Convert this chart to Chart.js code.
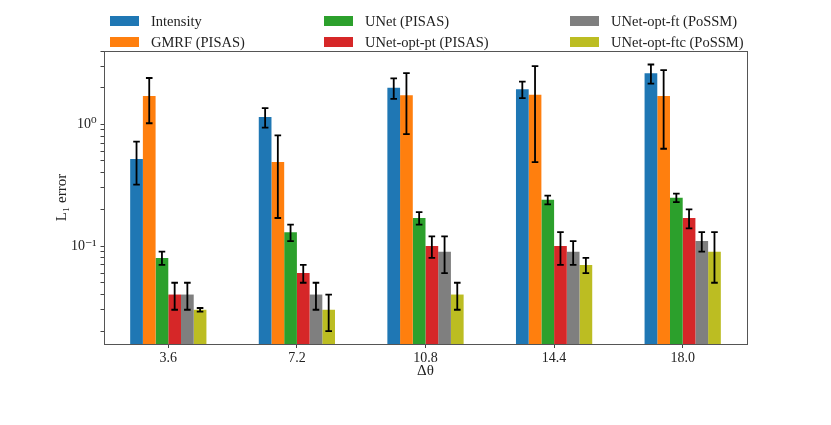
<!DOCTYPE html>
<html>
<head>
<meta charset="utf-8">
<script src="https://cdn.jsdelivr.net/npm/chart.js@4.4.0/dist/chart.umd.min.js"></script>
<style>
  html, body { margin: 0; padding: 0; background: #fff; }
  #wrap { width: 831px; height: 425px; }
</style>
</head>
<body>
<div id="wrap"><canvas id="errChart" width="831" height="425"></canvas></div>
<script>
var categories = ["3.6", "7.2", "10.8", "14.4", "18.0"];

var intensity = [0.52, 1.15, 2.0, 1.94, 2.63];
var intensityErr = [0.2, 0.21, 0.38, 0.3, 0.47];
var gmrf = [1.71, 0.49, 1.73, 1.75, 1.71];
var gmrfErr = [0.69, 0.32, 0.9, 1.26, 1.08];
var unet = [0.08, 0.13, 0.17, 0.24, 0.25];
var unetErr = [0.01, 0.02, 0.02, 0.02, 0.02];
var unetOptPt = [0.04, 0.06, 0.1, 0.1, 0.17];
var unetOptPtErr = [0.01, 0.01, 0.02, 0.03, 0.03];
var unetOptFt = [0.04, 0.04, 0.09, 0.09, 0.11];
var unetOptFtErr = [0.01, 0.01, 0.03, 0.02, 0.02];
var unetOptFtc = [0.03, 0.03, 0.04, 0.07, 0.09];
var unetOptFtcErr = [0.001, 0.01, 0.01, 0.01, 0.04];

var yTicks = [0.02, 0.03, 0.04, 0.05, 0.06, 0.07, 0.08, 0.09, 0.1,
              0.2, 0.3, 0.4, 0.5, 0.6, 0.7, 0.8, 0.9, 1, 2, 3, 4];

var serif = "'Liberation Serif', 'DejaVu Serif', serif";

function ds(label, data, err, color) {
  return {
    label: label,
    data: data,
    errors: err,
    backgroundColor: color,
    borderWidth: 0,
    categoryPercentage: 0.593,
    barPercentage: 1.0
  };
}

// error bars drawn from each bar's own x and the y scale
var errorBars = {
  id: "errorBars",
  afterDatasetsDraw: function (chart) {
    var ctx = chart.ctx;
    var y = chart.scales.y;
    ctx.save();
    ctx.strokeStyle = "#000";
    ctx.lineWidth = 1.8;
    chart.data.datasets.forEach(function (d, i) {
      var meta = chart.getDatasetMeta(i);
      meta.data.forEach(function (bar, j) {
        var v = d.data[j], e = d.errors[j];
        var top = y.getPixelForValue(v + e);
        var bot = y.getPixelForValue(v - e);
        ctx.beginPath();
        ctx.moveTo(bar.x, top); ctx.lineTo(bar.x, bot);
        ctx.moveTo(bar.x - 3.3, top); ctx.lineTo(bar.x + 3.3, top);
        ctx.moveTo(bar.x - 3.3, bot); ctx.lineTo(bar.x + 3.3, bot);
        ctx.stroke();
      });
    });
    ctx.restore();
  }
};

// matplotlib style box + 3 column legend
var frameLegend = {
  id: "frameLegend",
  afterDraw: function (chart) {
    var ctx = chart.ctx;
    var a = chart.chartArea;
    ctx.save();
    ctx.strokeStyle = "#555";
    ctx.lineWidth = 1;
    ctx.strokeRect(Math.round(a.left) + 0.5, Math.round(a.top) + 0.5,
                   Math.round(a.right - a.left), Math.round(a.bottom - a.top));

    var colX = [110, 324, 570];
    var rowY = [21, 42];
    ctx.font = "14.5px " + serif;
    ctx.textBaseline = "middle";
    chart.data.datasets.forEach(function (d, i) {
      var cx = colX[Math.floor(i / 2)];
      var cy = rowY[i % 2];
      ctx.fillStyle = d.backgroundColor;
      ctx.fillRect(cx, cy - 5, 29, 10);
      ctx.fillStyle = "#222";
      ctx.fillText(d.label, cx + 41, cy + 1);
    });
    ctx.restore();
  }
};

var chart = new Chart(document.getElementById("errChart").getContext("2d"), {
  type: "bar",
  data: {
    labels: categories,
    datasets: [
      ds("Intensity", intensity, intensityErr, "#1f77b4"),
      ds("GMRF (PISAS)", gmrf, gmrfErr, "#ff7f0e"),
      ds("UNet (PISAS)", unet, unetErr, "#2ca02c"),
      ds("UNet-opt-pt (PISAS)", unetOptPt, unetOptPtErr, "#d62728"),
      ds("UNet-opt-ft (PoSSM)", unetOptFt, unetOptFtErr, "#7f7f7f"),
      ds("UNet-opt-ftc (PoSSM)", unetOptFtc, unetOptFtcErr, "#bcbd22")
    ]
  },
  options: {
    responsive: false,
    animation: false,
    layout: { padding: { left: 0, top: 51, right: 84, bottom: 0 } },
    plugins: {
      legend: { display: false },
      tooltip: { enabled: false }
    },
    scales: {
      x: {
        type: "category",
        offset: true,
        grid: { display: true, drawOnChartArea: false, drawTicks: true, tickLength: 4, offset: false, color: "#444" },
        border: { display: false },
        ticks: { color: "#222", padding: 2, font: { family: serif, size: 14 } },
        title: { display: true, text: "Δθ", color: "#222", font: { family: serif, size: 15 }, padding: { top: 0, bottom: 45 } },
        afterFit: function (s) { s.height = 81; }
      },
      y: {
        type: "logarithmic",
        min: 0.0157,
        max: 4.0,
        afterBuildTicks: function (s) {
          s.ticks = yTicks.map(function (v) { return { value: v }; });
        },
        grid: { display: true, drawOnChartArea: false, drawTicks: true, tickLength: 3.5, color: "#444" },
        border: { display: false },
        ticks: {
          autoSkip: false,
          color: "#222",
          padding: 4,
          font: { family: serif, size: 14 },
          callback: function (v) {
            if (v === 1) return "10⁰";
            if (v === 0.1) return "10⁻¹";
            return "";
          }
        },
        title: { display: true, text: "L₁ error", color: "#222", font: { family: serif, size: 15 }, padding: { top: 53, bottom: 0 } },
        afterFit: function (s) { s.width = 104; }
      }
    }
  },
  plugins: [errorBars, frameLegend]
});
</script>
</body>
</html>
